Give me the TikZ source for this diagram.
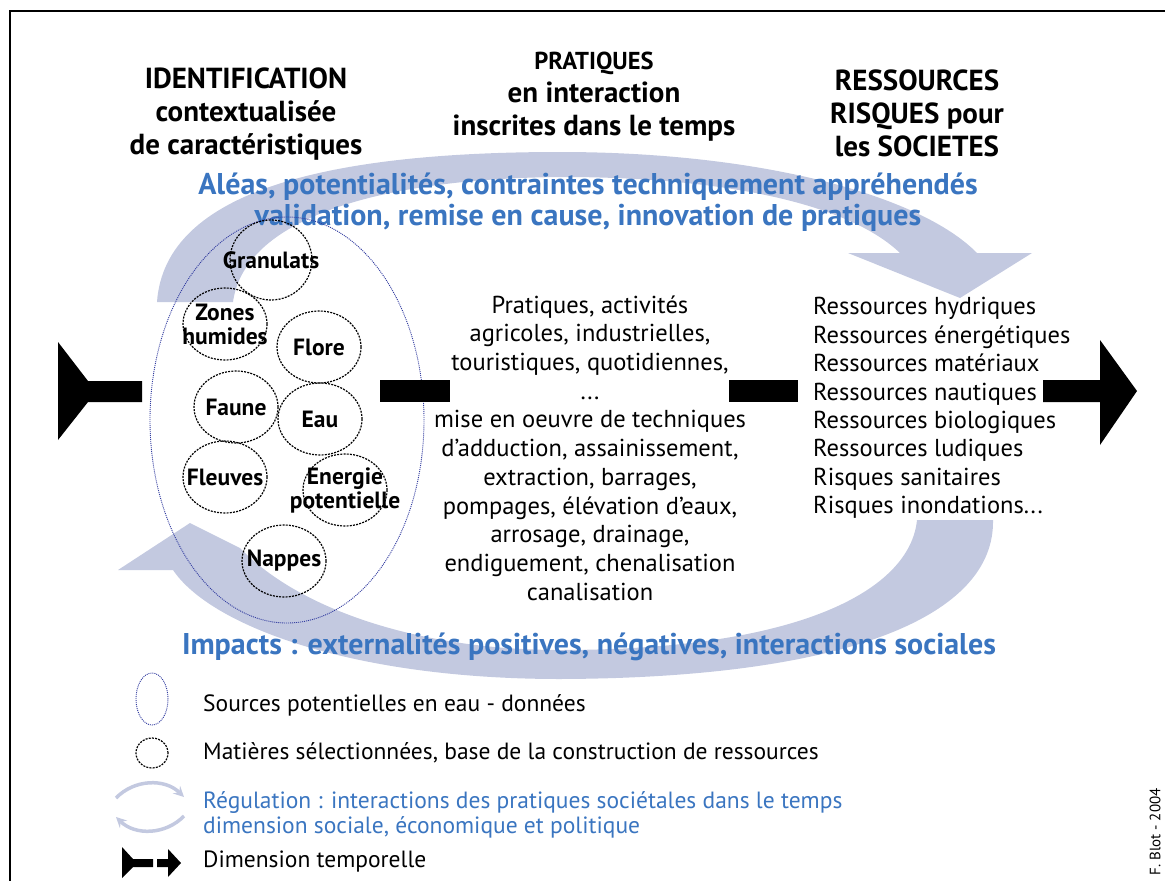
\documentclass[tikz,border=0pt]{standalone}
\usepackage{fontspec}
\setmainfont{PT Sans}
\usetikzlibrary{shapes.geometric, arrows}
\definecolor{bleutexte}{RGB}{58,117,192}
\definecolor{bleuclair}{RGB}{195,201,224}
\definecolor{bleucontour}{RGB}{50,60,160}
\tikzstyle{titre} = [align=center, inner sep=0, font=\bfseries\fontsize{29}{33}\selectfont]
\tikzstyle{bleu} = [align=center, inner sep=0, text=bleutexte, font=\bfseries\fontsize{30}{31}\selectfont]
\tikzstyle{texte} = [align=center, inner sep=0, font=\fontsize{24.5}{28.7}\selectfont]
\tikzstyle{liste} = [align=left, inner sep=0, anchor=west, font=\fontsize{24.5}{28.4}\selectfont]
\tikzstyle{legende} = [align=left, inner sep=0, anchor=west, font=\fontsize{23.5}{25}\selectfont]
\tikzstyle{source} = [ellipse, draw=bleucontour, dash pattern=on 1pt off 1pt, line width=0.9, inner sep=0]
\tikzstyle{matiere} = [ellipse, draw=black, dash pattern=on 2pt off 1.2pt, line width=1.2, inner sep=0, minimum width=84, minimum height=72]
\tikzstyle{mot} = [align=center, inner sep=0, font=\bfseries\fontsize{23.5}{24}\selectfont]
\tikzstyle{swoosh} = [fill=bleuclair]
\tikzstyle{fleche} = [fill=black]
\tikzstyle{boucle} = [bleuclair, line width=3.5, ->, >=stealth]

\begin{document}
\begin{tikzpicture}[x=1pt, y=-1pt]
\useasboundingbox (0,0) rectangle (1165,881);
\draw[line width=2.5] (10,881) -- (10,11) -- (1165,11);
% boucles de regulation
\fill[swoosh] (157,302) .. controls (165,190) and (330,152) .. (560,152) .. controls (760,152) and (920,195) .. (977,253) -- (1032,253) -- (960,298) -- (848,253) -- (900,253) .. controls (850,205) and (730,178) .. (570,177) .. controls (390,177) and (245,215) .. (233,302) -- cycle;
\fill[swoosh] (993,520) .. controls (995,615) and (850,678) .. (560,679) .. controls (350,679) and (210,625) .. (173,570) -- (118,570) -- (190,523) -- (240,548) .. controls (300,610) and (420,650) .. (560,650) .. controls (800,650) and (910,590) .. (917,520) -- cycle;
% titres
\node (identification) [titre] at (246,114) {IDENTIFICATION\\contextualisée\\de caractéristiques};
\node (pratiques) [titre] at (594,97) {{\fontsize{24.5}{26}\selectfont PRATIQUES}\\en interaction\\inscrites dans le temps};
\node (ressources) [titre] at (917,113) {RESSOURCES\\RISQUES pour\\les SOCIETES};
\node (aleas) [bleu] at (588,202) {Aléas, potentialités, contraintes techniquement appréhendés\\validation, remise en cause, innovation de pratiques};
\node (impacts) [bleu] at (589,647) {Impacts : externalités positives, négatives, interactions sociales};
% sources et matieres
\node (sources) [source, minimum width=274, minimum height=406] at (287,420) {};
\node (granulats) [matiere, minimum width=82, minimum height=80, label={[mot]center:Granulats}] at (271,260) {};
\node (zones) [matiere, label={[mot]center:Zones\\humides}] at (225,324) {};
\node (flore) [matiere, label={[mot]center:Flore}] at (319,347) {};
\node (faune) [matiere, label={[mot]center:Faune}] at (236,407) {};
\node (eau) [matiere, label={[mot]center:Eau}] at (320,419) {};
\node (fleuves) [matiere, label={[mot]center:Fleuves}] at (225,477) {};
\node (energie) [matiere, label={[mot]center:Energie\\potentielle}] at (345,490) {};
\node (nappes) [matiere, label={[mot]center:Nappes}] at (284,561) {};
% pratiques et ressources
\node (activites) [texte] at (590,448) {Pratiques, activités\\agricoles, industrielles,\\touristiques, quotidiennes,\\...\\mise en oeuvre de techniques\\d’adduction, assainissement,\\extraction, barrages,\\pompages, élévation d’eaux,\\arrosage, drainage,\\endiguement, chenalisation\\canalisation};
\node (liste) [liste] at (813,408) {Ressources hydriques\\Ressources énergétiques\\Ressources matériaux\\Ressources nautiques\\Ressources biologiques\\Ressources ludiques\\Risques sanitaires\\Risques inondations...};
% dimension temporelle
\fill[fleche] (58,342) -- (88,381) -- (142,381) -- (142,402) -- (88,402) -- (58,440) -- cycle;
\fill[fleche] (380,380) rectangle (450,402);
\fill[fleche] (729,380) rectangle (798,402);
\fill[fleche] (1043,380) -- (1100,380) -- (1100,340) -- (1137,391) -- (1100,445) -- (1100,402) -- (1043,402) -- cycle;
% legende
\node (legsource) [source, minimum width=32, minimum height=52] at (152,699) {};
\node (legmatiere) [matiere, minimum width=32, minimum height=30] at (152,753) {};
\node (txtsource) [legende] at (203,705) {Sources potentielles en eau - données};
\node (txtmatiere) [legende] at (203,753) {Matières sélectionnées, base de la construction de ressources};
\node (txtregulation) [legende, text=bleutexte] at (203,815) {Régulation : interactions des pratiques sociétales dans le temps\\dimension sociale, économique et politique};
\draw[boucle] (116,798) to[bend left=45] (184,797);
\draw[boucle] (184,816) to[bend left=45] (116,817);
\fill[fleche] (122,847) -- (133,859) -- (153,859) -- (153,867) -- (133,867) -- (122,878) -- cycle;
\fill[fleche] (157,859) -- (168,859) -- (168,849) -- (181,863) -- (168,877) -- (168,867) -- (157,867) -- cycle;
\node (txttemps) [legende] at (203,862) {Dimension temporelle};
\node (signature) [rotate=90, inner sep=0, font=\fontsize{15}{17}\selectfont] at (1155,832) {F. Blot - 2004};
\end{tikzpicture}
\end{document}
